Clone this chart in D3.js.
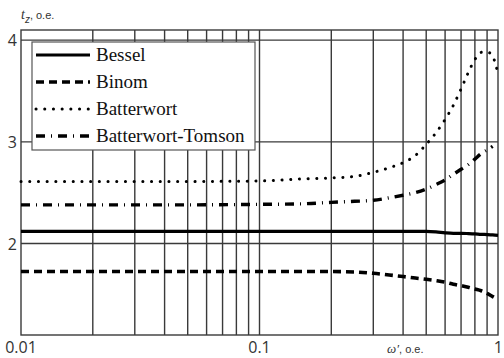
<!DOCTYPE html>
<html>
<head>
<meta charset="utf-8">
<script src="https://cdn.jsdelivr.net/npm/d3@7"></script>
<style>
  body { margin: 0; background: #fff; }
</style>
</head>
<body>
<div id="chart"></div>
<script>
// frequency, o.e.
const omega = [0.01, 0.02, 0.05, 0.1, 0.15, 0.2, 0.25, 0.3, 0.35, 0.4, 0.45, 0.5,
  0.55, 0.6, 0.65, 0.7, 0.75, 0.8, 0.85, 0.9, 0.95, 1.0]

const bessel = [2.12, 2.12, 2.12, 2.12, 2.12, 2.12, 2.12, 2.12, 2.12, 2.12, 2.12, 2.12,
  2.115, 2.105, 2.1, 2.1, 2.098, 2.095, 2.09, 2.088, 2.085, 2.08]
const binom = [1.725, 1.725, 1.725, 1.725, 1.725, 1.724, 1.72, 1.707, 1.69, 1.675, 1.66, 1.648,
  1.635, 1.62, 1.6, 1.585, 1.57, 1.552, 1.535, 1.51, 1.478, 1.45]
const batterwort = [2.61, 2.61, 2.61, 2.615, 2.635, 2.645, 2.66, 2.7, 2.745, 2.795, 2.865, 2.975,
  3.09, 3.22, 3.36, 3.52, 3.68, 3.81, 3.88, 3.885, 3.84, 3.67]
const batterwortTomson = [2.38, 2.38, 2.38, 2.385, 2.39, 2.405, 2.415, 2.425, 2.45, 2.475, 2.5, 2.535,
  2.58, 2.625, 2.68, 2.73, 2.775, 2.83, 2.885, 2.92, 2.955, null]

const seriesNames = ['Bessel', 'Binom', 'Batterwort', 'Batterwort-Tomson']
const yTicks = [2, 3, 4]
const xLabels = [0.01, 0.1, 1]

const width = 504
const height = 358
const plot = { left: 21, right: 498, top: 30, bottom: 335 }

const serif = "'Liberation Serif', 'Times New Roman', 'DejaVu Serif', serif"
const sans = "'Open Sans', 'Liberation Sans', sans-serif"

const svg = d3
  .select('#chart')
  .append('svg')
  .attr('width', width)
  .attr('height', height)

const x = d3.scaleLog().domain([0.01, 1]).range([plot.left, plot.right])
const y = d3.scaleLinear().domain([1.1, 4.1]).range([plot.bottom, plot.top])

const gridColor = '#3a3a3a'

// vertical grid, every 1..9 inside each decade
const xGrid = x.ticks().filter(d => d > 0.01 && d < 1)
svg
  .append('g')
  .selectAll('line')
  .data(xGrid)
  .enter()
  .append('line')
  .attr('x1', d => x(d))
  .attr('x2', d => x(d))
  .attr('y1', plot.top)
  .attr('y2', plot.bottom)
  .attr('stroke', gridColor)
  .attr('stroke-width', 1.4)

svg
  .append('g')
  .selectAll('line')
  .data(yTicks)
  .enter()
  .append('line')
  .attr('x1', plot.left)
  .attr('x2', plot.right)
  .attr('y1', d => y(d))
  .attr('y2', d => y(d))
  .attr('stroke', gridColor)
  .attr('stroke-width', 1.4)

svg
  .append('rect')
  .attr('x', plot.left)
  .attr('y', plot.top)
  .attr('width', plot.right - plot.left)
  .attr('height', plot.bottom - plot.top)
  .attr('fill', 'none')
  .attr('stroke', gridColor)
  .attr('stroke-width', 1.4)

const styles = [
  { data: bessel, dash: null, width: 3.2, cap: 'butt' },
  { data: binom, dash: '8,5', width: 3.6, cap: 'butt' },
  { data: batterwort, dash: '0.1,8.6', width: 3, cap: 'round' },
  { data: batterwortTomson, dash: '9,6,1,6', width: 3.4, cap: 'butt' }
]

const line = d3
  .line()
  .defined(d => d[1] !== null)
  .x(d => x(d[0]))
  .y(d => y(d[1]))
  .curve(d3.curveMonotoneX)

styles.forEach(s => {
  svg
    .append('path')
    .datum(omega.map((w, i) => [w, s.data[i]]))
    .attr('d', line)
    .attr('fill', 'none')
    .attr('stroke', '#000')
    .attr('stroke-width', s.width)
    .attr('stroke-linecap', s.cap)
    .attr('stroke-dasharray', s.dash)
})

// legend
const legend = svg.append('g')
legend
  .append('rect')
  .attr('x', 32)
  .attr('y', 42)
  .attr('width', 223)
  .attr('height', 108)
  .attr('fill', '#fff')
  .attr('stroke', '#555')
  .attr('stroke-width', 1.2)

seriesNames.forEach((name, i) => {
  const ly = 55 + i * 27
  legend
    .append('line')
    .attr('x1', 36)
    .attr('x2', 90)
    .attr('y1', ly)
    .attr('y2', ly)
    .attr('stroke', '#000')
    .attr('stroke-width', styles[i].width)
    .attr('stroke-linecap', styles[i].cap)
    .attr('stroke-dasharray', styles[i].dash)
  legend
    .append('text')
    .attr('x', 96)
    .attr('y', ly + 6)
    .style('font-family', serif)
    .attr('font-size', 19)
    .attr('fill', '#111')
    .text(name)
})

// tick labels
svg
  .append('g')
  .selectAll('text')
  .data(yTicks)
  .enter()
  .append('text')
  .attr('x', 17)
  .attr('y', d => y(d) + 6)
  .attr('text-anchor', 'end')
  .style('font-family', sans)
  .attr('font-size', 16)
  .attr('fill', '#333')
  .text(d => d)

svg
  .append('g')
  .selectAll('text')
  .data(xLabels)
  .enter()
  .append('text')
  .attr('x', d => (d === 1 ? 503 : x(d)))
  .attr('y', 353)
  .attr('text-anchor', d => (d === 1 ? 'end' : 'middle'))
  .style('font-family', sans)
  .attr('font-size', 16)
  .attr('fill', '#333')
  .text(d => d)

const xTitle = svg
  .append('text')
  .attr('x', 387)
  .attr('y', 353)
  .style('font-family', "'Liberation Sans', sans-serif")
  .attr('font-size', 11)
  .attr('fill', '#333')
xTitle.append('tspan').attr('font-style', 'italic').style('font-family', serif).attr('font-size', 13).text('ω\u2032')
xTitle.append('tspan').text(', o.e.')

const yTitle = svg
  .append('text')
  .attr('x', 21)
  .attr('y', 19)
  .style('font-family', "'Liberation Sans', sans-serif")
  .attr('font-size', 11)
  .attr('fill', '#333')
yTitle.append('tspan').attr('font-style', 'italic').style('font-family', serif).attr('font-size', 14).text('t')
yTitle.append('tspan').attr('font-style', 'italic').attr('font-size', 10).attr('dy', 4).text('z')
yTitle.append('tspan').attr('dy', -4).text(', o.e.')
</script>
</body>
</html>
